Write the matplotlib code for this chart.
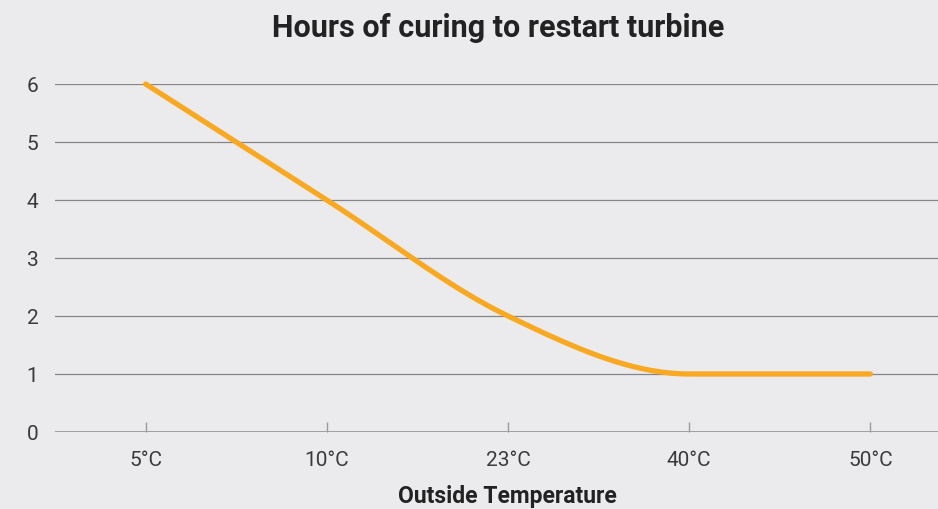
import numpy as np
import matplotlib
matplotlib.use('Agg')
import matplotlib.pyplot as plt

# Data
temps = ['5°C', '10°C', '23°C', '40°C', '50°C']
hours = [6, 4, 2, 1, 1]
y_ticks = [0, 1, 2, 3, 4, 5, 6]

BG = '#ebebee'
LINE = '#f8a921'
GRID = '#858585'
TXT = '#3a3a3a'

plt.rcParams['font.family'] = ['Roboto', 'DejaVu Sans']


def monotone_curve(x, y, n=40):
    """Monotone-x cubic (d3 style) through the points, for drawing only."""
    x = np.asarray(x, float)
    y = np.asarray(y, float)
    h = np.diff(x)
    s = np.diff(y) / h
    m = np.zeros_like(y)
    for i in range(1, len(y) - 1):
        p = (s[i - 1] * h[i] + s[i] * h[i - 1]) / (h[i - 1] + h[i])
        m[i] = (np.sign(s[i - 1]) + np.sign(s[i])) * min(abs(s[i - 1]), abs(s[i]), 0.5 * abs(p))
    m[0] = (3 * s[0] - m[1]) / 2
    m[-1] = (3 * s[-1] - m[-2]) / 2
    xs, ys = [], []
    for i in range(len(x) - 1):
        t = np.linspace(0, 1, n)
        h00 = 2 * t**3 - 3 * t**2 + 1
        h10 = t**3 - 2 * t**2 + t
        h01 = -2 * t**3 + 3 * t**2
        h11 = t**3 - t**2
        xs.append(x[i] + t * h[i])
        ys.append(h00 * y[i] + h10 * h[i] * m[i] + h01 * y[i + 1] + h11 * h[i] * m[i + 1])
    return np.concatenate(xs), np.concatenate(ys)


W, H = 938, 509
fig = plt.figure(figsize=(W / 100, H / 100), dpi=100, facecolor=BG)
# plot area: left 55px, spans past the right edge (gridlines run to the border)
ax = fig.add_axes([55 / W, (H - 432) / H, 906 / W, 348 / H])
ax.set_facecolor(BG)

xi = np.arange(len(temps))
cx, cy = monotone_curve(xi, hours)
ax.plot(cx, cy, color=LINE, lw=3.8, solid_capstyle='round', zorder=3, clip_on=False)

ax.set_xlim(-0.5, len(temps) - 0.5)
ax.set_ylim(0, 6)
ax.set_yticks(y_ticks)
ax.set_xticks(xi)
ax.set_xticklabels(temps)

for v in y_ticks[1:]:
    ax.axhline(v, color=GRID, lw=0.9, zorder=1)
ax.axhline(0, color='#9a9a9a', lw=1.3, zorder=2)

for s in ax.spines.values():
    s.set_visible(False)

ax.tick_params(axis='y', length=0, pad=12, labelsize=15, labelcolor=TXT)
ax.tick_params(axis='x', direction='in', length=7, width=1, color='#9a9a9a',
               pad=14, labelsize=15, labelcolor=TXT)

fig.text(498 / W, 1 - 28 / H, 'Hours of curing to restart turbine',
         ha='center', va='center', fontsize=22, fontweight='bold', color='#222222')
fig.text(507 / W, 1 - 497 / H, 'Outside Temperature',
         ha='center', va='center', fontsize=16.5, fontweight='bold', color='#222222')

fig.savefig('out.png', dpi=100, facecolor=BG)
